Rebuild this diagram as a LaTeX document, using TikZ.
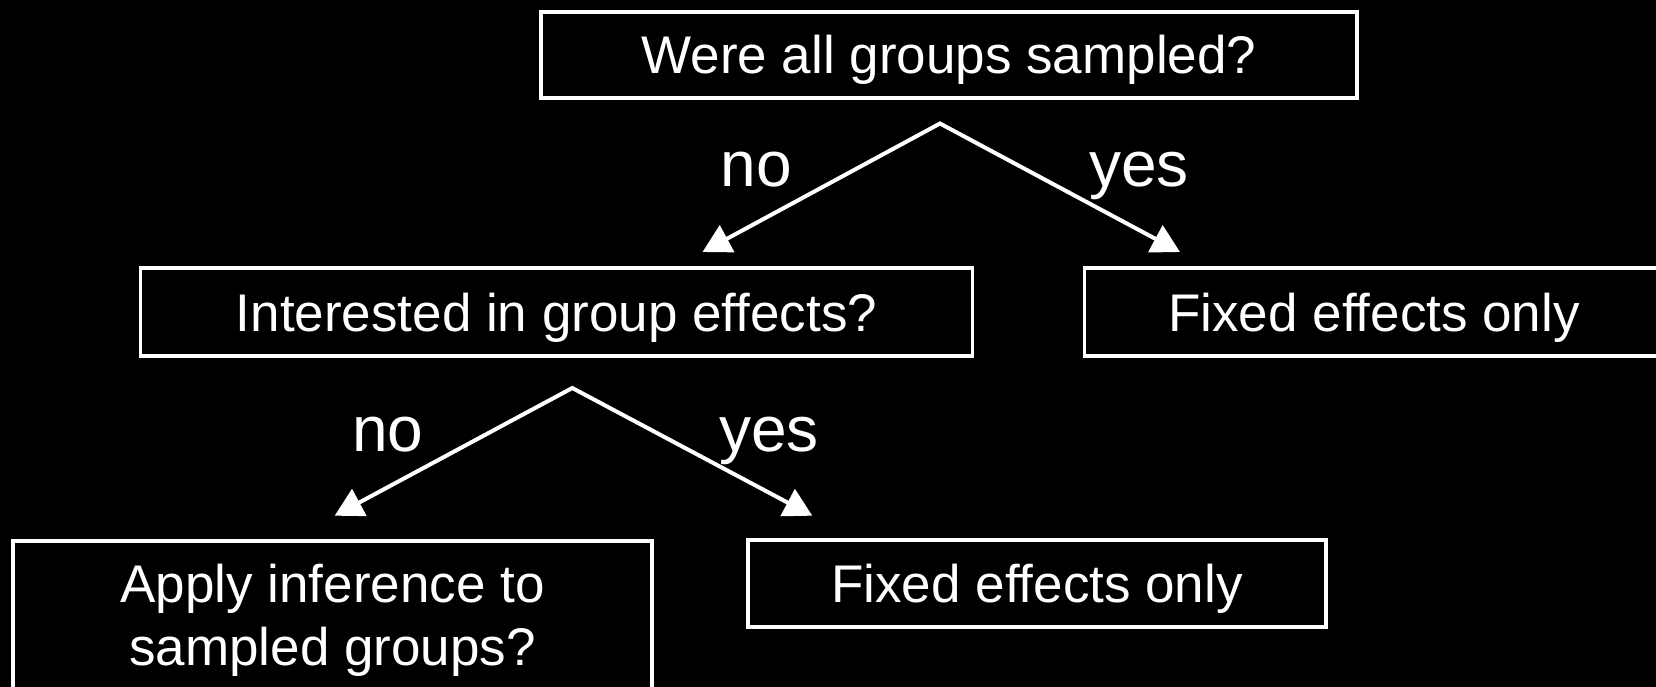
\documentclass[tikz,border=0pt]{standalone}
\usepackage{fontspec}
\setmainfont{Liberation Sans}
\usetikzlibrary{arrows.meta}
\begin{document}
\begin{tikzpicture}[x=1pt,y=-1pt,
  every node/.style={text=white},
  boxnode/.style={draw=white, line width=3.2pt, rectangle, inner sep=0pt,
    font=\fontsize{53}{63}\selectfont, text height=38pt, text depth=0pt},
  lbl/.style={font=\fontsize{64}{70}\selectfont, anchor=base, inner sep=0pt},
  conn/.style={draw=white, line width=4pt, line join=miter,
    {Triangle[length=28pt,width=30pt]}-{Triangle[length=28pt,width=30pt]}}
]
\fill[black] (0,0) rectangle (1656,687);
\useasboundingbox (0,0) rectangle (1656,687);

\node[boxnode, minimum width=816pt, minimum height=86pt] (q1) at (949,55) {Were all groups sampled?};
\node[boxnode, minimum width=832pt, minimum height=88pt] (q2) at (556.5,312) {Interested in group effects?};
\node[boxnode, minimum width=579pt, minimum height=88pt] (f1) at (1374,312) {Fixed effects only};
\node[boxnode, minimum width=578pt, minimum height=87pt] (f2) at (1037,583.5) {Fixed effects only};
\node[boxnode, align=center, minimum width=639pt, minimum height=177pt, text height=101pt, text depth=30pt] (q3) at (332.5,629.5) {Apply inference to\\sampled groups?};

\coordinate (a1) at (940,123.5);
\coordinate (l1) at (702.5,252);
\coordinate (r1) at (1180,252);
\coordinate (a2) at (572.3,388);
\coordinate (l2) at (334.7,515.7);
\coordinate (r2) at (812.3,515.7);

\draw[conn] (l1) -- (a1) -- (r1);
\draw[conn] (l2) -- (a2) -- (r2);

\node[lbl] (no1) at (756,186) {no};
\node[lbl] (yes1) at (1139,186) {yes};
\node[lbl] (no2) at (388,451) {no};
\node[lbl] (yes2) at (769,451) {yes};
\end{tikzpicture}
\end{document}
